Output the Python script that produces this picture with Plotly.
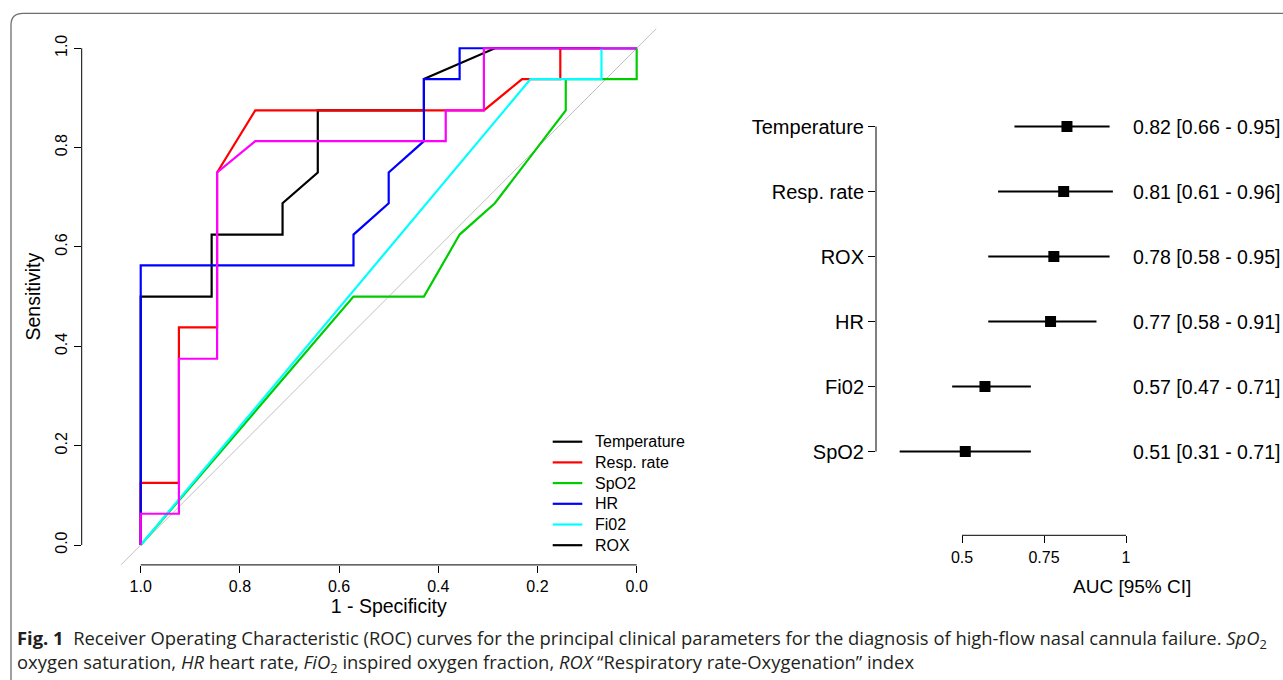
import plotly.graph_objects as go

W, H = 1283, 680

# ---------------- ROC curves (x = specificity, y = sensitivity) ----------------
temp_spec = [1.0, 1.0, 0.857, 0.857, 0.714, 0.714, 0.643, 0.643, 0.429, 0.429, 0.286, 0.0]
temp_sens = [0.0, 0.5, 0.5, 0.625, 0.625, 0.688, 0.75, 0.875, 0.875, 0.938, 1.0, 1.0]

resp_spec = [1.0, 1.0, 0.923, 0.923, 0.846, 0.846, 0.769, 0.308, 0.231, 0.154, 0.154, 0.0]
resp_sens = [0.0, 0.125, 0.125, 0.438, 0.438, 0.75, 0.875, 0.875, 0.938, 0.938, 1.0, 1.0]

spo2_spec = [1.0, 0.571, 0.429, 0.357, 0.286, 0.143, 0.143, 0.0, 0.0]
spo2_sens = [0.0, 0.5, 0.5, 0.625, 0.688, 0.875, 0.938, 0.938, 1.0]

hr_spec = [1.0, 1.0, 0.571, 0.571, 0.5, 0.5, 0.429, 0.429, 0.357, 0.357, 0.0]
hr_sens = [0.0, 0.563, 0.563, 0.625, 0.688, 0.75, 0.813, 0.938, 0.938, 1.0, 1.0]

fio2_spec = [1.0, 0.214, 0.071, 0.071, 0.0]
fio2_sens = [0.0, 0.938, 0.938, 1.0, 1.0]

rox_spec = [1.0, 1.0, 0.923, 0.923, 0.846, 0.846, 0.769, 0.385, 0.385, 0.308, 0.308, 0.0]
rox_sens = [0.0, 0.063, 0.063, 0.375, 0.375, 0.75, 0.813, 0.813, 0.875, 0.875, 1.0, 1.0]

curve_colors = ["#000000", "#FF0000", "#00CD00", "#0000FF", "#00FFFF", "#FF00FF"]
legend_names = ["Temperature", "Resp. rate", "SpO2", "HR", "Fi02", "ROX"]
legend_colors = ["#000000", "#FF0000", "#00CD00", "#0000FF", "#00FFFF", "#000000"]

diag_x = [1.04, -0.04]
diag_y = [-0.04, 1.04]

roc_ticks = [1.0, 0.8, 0.6, 0.4, 0.2, 0.0]
roc_ticktext = ["1.0", "0.8", "0.6", "0.4", "0.2", "0.0"]
sens_ticks = [0.0, 0.2, 0.4, 0.6, 0.8, 1.0]
sens_ticktext = ["0.0", "0.2", "0.4", "0.6", "0.8", "1.0"]

# ---------------- Forest plot (AUC with 95% CI) ----------------
forest_labels = ["Temperature", "Resp. rate", "ROX", "HR", "Fi02", "SpO2"]
forest_pos = [6, 5, 4, 3, 2, 1]
auc = [0.82, 0.81, 0.78, 0.77, 0.57, 0.51]
ci_lo = [0.66, 0.61, 0.58, 0.58, 0.47, 0.31]
ci_hi = [0.95, 0.96, 0.95, 0.91, 0.71, 0.71]
auc_text = ["0.82 [0.66 - 0.95]", "0.81 [0.61 - 0.96]", "0.78 [0.58 - 0.95]",
            "0.77 [0.58 - 0.91]", "0.57 [0.47 - 0.71]", "0.51 [0.31 - 0.71]"]
auc_ticks = [0.5, 0.75, 1.0]
auc_ticktext = ["0.5", "0.75", "1"]

caption_1 = ("<b>Fig. 1</b>\u00a0\u00a0Receiver Operating Characteristic (ROC) curves for the principal "
             "clinical parameters for the diagnosis of high-flow nasal cannula failure. <i>SpO</i><sub>2</sub>")
caption_2 = ("oxygen saturation, <i>HR</i> heart rate, <i>FiO</i><sub>2</sub> inspired oxygen fraction, "
             "<i>ROX</i>\u00a0\u201cRespiratory rate-Oxygenation\u201d index")

FONT = "Liberation Sans, Arial, Helvetica, sans-serif"
CAP_FONT = "Open Sans, Noto Sans, Lato, sans-serif"

fig = go.Figure()

# reference diagonal
fig.add_trace(go.Scatter(x=diag_x, y=diag_y, mode="lines",
                         line=dict(color="#C0C0C0", width=1),
                         showlegend=False, hoverinfo="skip", xaxis="x", yaxis="y"))

curves = [(temp_spec, temp_sens), (resp_spec, resp_sens), (spo2_spec, spo2_sens),
          (hr_spec, hr_sens), (fio2_spec, fio2_sens), (rox_spec, rox_sens)]
for (sx, sy), col, nm in zip(curves, curve_colors, legend_names):
    fig.add_trace(go.Scatter(x=sx, y=sy, mode="lines", name=nm,
                             line=dict(color=col, width=2.2),
                             showlegend=False, xaxis="x", yaxis="y"))

# forest plot
fig.add_trace(go.Scatter(
    x=auc, y=forest_pos, mode="markers",
    marker=dict(symbol="square", size=11, color="black"),
    error_x=dict(type="data", symmetric=False,
                 array=[h - a for h, a in zip(ci_hi, auc)],
                 arrayminus=[a - l for a, l in zip(auc, ci_lo)],
                 thickness=2, width=0, color="black"),
    showlegend=False, xaxis="x2", yaxis="y2"))

# ---------------- geometry (pixels -> paper) ----------------
roc_left, roc_right, roc_top, roc_bottom = 81.7, 695.7, 28.4, 564.9
f_left, f_right, f_top, f_bottom = 876.0, 1283.0, 60.0, 535.3
f_scale = 328.0          # px per AUC unit
f_half = 962.0           # px of AUC = 0.5
f_x_lo = 0.5 - (f_half - f_left) / f_scale
f_x_hi = 0.5 + (f_right - f_half) / f_scale
row_px = 65.0
f_y_lo = 1 - (f_bottom - 451.5) / row_px
f_y_hi = 6 + (126.5 - f_top) / row_px

px = lambda v: v / W
py = lambda v: 1 - v / H

axis_common = dict(showgrid=False, zeroline=False, showline=False, ticks="outside",
                   ticklen=7, tickwidth=1, tickcolor="black",
                   tickfont=dict(size=16, color="black", family=FONT))

fig.update_layout(
    width=W, height=H, margin=dict(l=0, r=0, t=0, b=0),
    plot_bgcolor="white", paper_bgcolor="white",
    font=dict(family=FONT, color="black"),
    showlegend=False,
    xaxis=dict(domain=[px(roc_left), px(roc_right)], range=[1.119, -0.119],
               tickvals=roc_ticks, ticktext=roc_ticktext,
               title=dict(text="1 - Specificity", font=dict(size=19.5, family=FONT), standoff=4),
               **axis_common),
    yaxis=dict(domain=[py(roc_bottom), py(roc_top)], range=[-0.04, 1.04],
               tickvals=sens_ticks, ticktext=sens_ticktext, tickangle=-90,
               title=dict(text="Sensitivity", font=dict(size=19.5, family=FONT), standoff=7),
               **axis_common),
    xaxis2=dict(domain=[px(f_left), px(f_right)], range=[f_x_lo, f_x_hi],
                tickvals=auc_ticks, ticktext=auc_ticktext, anchor="y2",
                **axis_common),
    yaxis2=dict(domain=[py(f_bottom), py(f_top)], range=[f_y_lo, f_y_hi],
                tickvals=forest_pos, ticktext=forest_labels, anchor="x2",
                showgrid=False, zeroline=False, showline=False, ticks="outside",
                ticklen=7, tickwidth=1, tickcolor="black",
                tickfont=dict(size=20, color="black", family=FONT)),
)

shapes = [
    # ROC axis lines (span only the tick range, R style)
    dict(type="line", xref="x", yref="y domain", x0=1.0, x1=0.0, y0=0, y1=0,
         line=dict(color="black", width=1)),
    dict(type="line", xref="x domain", yref="y", x0=0, x1=0, y0=0.0, y1=1.0,
         line=dict(color="black", width=1)),
    # forest axis lines
    dict(type="line", xref="x2", yref="y2 domain", x0=0.5, x1=1.0, y0=0, y1=0,
         line=dict(color="black", width=1)),
    dict(type="line", xref="x2 domain", yref="y2", x0=0, x1=0, y0=1, y1=6,
         line=dict(color="black", width=1)),
]
# rounded outer frame
fx0, fy0, r = 11.0, 13.3, 12.0
frame_path = (f"M {px(fx0)},{py(H + 20)} L {px(fx0)},{py(fy0 + r)} "
              f"Q {px(fx0)},{py(fy0)} {px(fx0 + r)},{py(fy0)} L {px(W + 20)},{py(fy0)}")
shapes.append(dict(type="path", xref="paper", yref="paper", path=frame_path,
                   line=dict(color="#6E6E6E", width=1.3), layer="above"))

annotations = []
# legend (R-style, drawn manually to match spacing)
leg_y0, leg_dy = 441.7, 20.7
for i, (nm, col) in enumerate(zip(legend_names, legend_colors)):
    yy = leg_y0 + i * leg_dy
    shapes.append(dict(type="line", xref="paper", yref="paper",
                       x0=px(552.7), x1=px(582.3), y0=py(yy), y1=py(yy),
                       line=dict(color=col, width=2.2)))
    annotations.append(dict(x=px(593), y=py(yy), xref="paper", yref="paper", text=nm,
                            showarrow=False, xanchor="left", yanchor="middle",
                            font=dict(size=16, family=FONT, color="black")))
fig.update_layout(shapes=shapes)

text_x = 1.0 + (1133.0 - 2.0 - (f_half + 0.5 * f_scale)) / f_scale
for txt, yv in zip(auc_text, forest_pos):
    annotations.append(dict(x=text_x, y=yv, xref="x2", yref="y2", text=txt,
                            showarrow=False, xanchor="left", yanchor="middle",
                            font=dict(size=19.5, family=FONT, color="black")))
annotations.append(dict(x=px(1132), y=py(586), xref="paper", yref="paper",
                        text="AUC [95% CI]", showarrow=False, xanchor="center", yanchor="middle",
                        font=dict(size=19, family=FONT, color="black")))
annotations.append(dict(x=px(14.7), y=py(639), xref="paper", yref="paper",
                        text=caption_1, showarrow=False, xanchor="left", yanchor="middle",
                        font=dict(size=18.4, family=CAP_FONT, color="#231F20")))
annotations.append(dict(x=px(14.7), y=py(663), xref="paper", yref="paper",
                        text=caption_2, showarrow=False, xanchor="left", yanchor="middle",
                        font=dict(size=18.4, family=CAP_FONT, color="#231F20")))
fig.update_layout(annotations=annotations)

fig.write_html("out.html", config={"displayModeBar": False, "staticPlot": False},
               post_script="document.body.style.margin='0';document.body.style.padding='0';")
